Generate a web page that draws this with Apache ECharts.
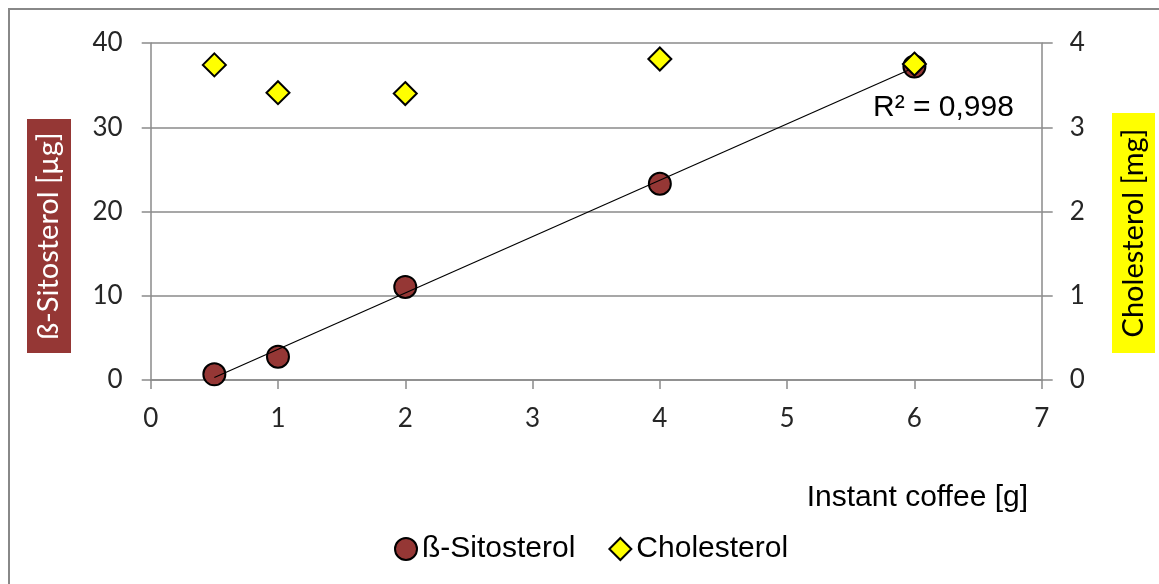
<!DOCTYPE html>
<html>
<head>
<meta charset="utf-8">
<script src="https://cdn.jsdelivr.net/npm/echarts@6/dist/echarts.min.js"></script>
<style>html,body{margin:0;padding:0;background:#fff}#c{width:1159px;height:584px}</style>
</head>
<body>
<div id="c"></div>
<script>
// ---- data ----
var coffeeGrams = [0.5, 1, 2, 4, 6];
var sitosterolUg = [0.67, 2.77, 11.05, 23.3, 37.2];
var cholesterolMg = [3.74, 3.41, 3.40, 3.81, 3.75];
var trendX = [0.5, 6];
var trendY = [0.3, 37.1];
var xTicks = [0, 1, 2, 3, 4, 5, 6, 7];
var leftTicks = [0, 10, 20, 30, 40];
var rightTicks = [0, 1, 2, 3, 4];
var seriesNames = ['ß-Sitosterol', 'Cholesterol'];
var rSquaredText = 'R² = 0,998';
var xTitle = 'Instant coffee [g]';
var leftTitle = 'ß-Sitosterol [µg]';
var rightTitle = 'Cholesterol [mg]';

function pairs(xs, ys) { return xs.map(function (x, i) { return [x, ys[i]]; }); }

var chart = echarts.init(document.getElementById('c'), null, { renderer: 'canvas' });
var axisGray = '#8a8a8a';
var tickFont = { fontFamily: 'Lato', fontSize: 26, color: '#262626' };
var arial = 'Liberation Sans';

chart.setOption({
  animation: false,
  backgroundColor: '#fff',
  grid: { left: 150.7, right: 117.3, top: 43, bottom: 204 },
  xAxis: {
    type: 'value', min: xTicks[0], max: xTicks[xTicks.length - 1], interval: 1,
    axisLine: { show: true, lineStyle: { color: axisGray, width: 1.5 } },
    axisTick: { show: true, length: 9, lineStyle: { color: axisGray, width: 1.5 } },
    splitLine: { show: false },
    axisLabel: Object.assign({ margin: 26 }, tickFont)
  },
  yAxis: [
    {
      type: 'value', min: leftTicks[0], max: leftTicks[leftTicks.length - 1], interval: 10,
      axisLine: { show: true, lineStyle: { color: axisGray, width: 1.5 } },
      axisTick: { show: true, length: 9, lineStyle: { color: axisGray, width: 1.5 } },
      splitLine: { show: true, lineStyle: { color: axisGray, width: 1.5 } },
      axisLabel: Object.assign({ margin: 28 }, tickFont)
    },
    {
      type: 'value', min: rightTicks[0], max: rightTicks[rightTicks.length - 1], interval: 1,
      position: 'right',
      axisLine: { show: true, lineStyle: { color: axisGray, width: 1.5 } },
      axisTick: { show: true, length: 11, lineStyle: { color: axisGray, width: 1.5 } },
      splitLine: { show: false },
      axisLabel: Object.assign({ margin: 28 }, tickFont)
    }
  ],
  legend: {
    data: seriesNames,
    left: 389, top: 529,
    itemWidth: 22, itemHeight: 22, itemGap: 33,
    textStyle: { fontFamily: arial, fontSize: 30, color: '#000' }
  },
  series: [
    {
      name: seriesNames[0], type: 'scatter', yAxisIndex: 0, z: 2,
      symbol: 'circle', symbolSize: 22,
      itemStyle: { color: '#953735', borderColor: '#000', borderWidth: 2, opacity: 1 },
      data: pairs(coffeeGrams, sitosterolUg)
    },
    {
      name: 'trend', type: 'line', yAxisIndex: 0, z: 3,
      showSymbol: false, symbol: 'none', silent: true,
      lineStyle: { color: '#000', width: 1.2 },
      data: pairs(trendX, trendY)
    },
    {
      name: seriesNames[1], type: 'scatter', yAxisIndex: 1, z: 4,
      symbol: 'diamond', symbolSize: 23,
      itemStyle: { color: '#FFFF00', borderColor: '#000', borderWidth: 2, opacity: 1 },
      data: pairs(coffeeGrams, cholesterolMg)
    }
  ],
  graphic: [
    { type: 'rect', silent: true, z: -10, shape: { x: 9, y: 9, width: 1160, height: 600 },
      style: { fill: 'none', stroke: '#888', lineWidth: 2 } },
    { type: 'rect', silent: true, shape: { x: 27, y: 119, width: 44, height: 234 },
      style: { fill: '#953735' } },
    { type: 'text', silent: true, x: 49, y: 236, rotation: Math.PI / 2,
      style: { text: leftTitle, fill: '#fff', font: '29px Lato', textAlign: 'center', textVerticalAlign: 'middle' } },
    { type: 'rect', silent: true, shape: { x: 1112, y: 113, width: 43, height: 240 },
      style: { fill: '#FFFF00' } },
    { type: 'text', silent: true, x: 1133.5, y: 233, rotation: Math.PI / 2,
      style: { text: rightTitle, fill: '#000', font: '29px Lato', textAlign: 'center', textVerticalAlign: 'middle' } },
    { type: 'text', silent: true, x: 1028, y: 498,
      style: { text: xTitle, fill: '#000', font: '30px "Liberation Sans"', textAlign: 'right', textVerticalAlign: 'middle' } },
    { type: 'text', silent: true, x: 873, y: 108,
      style: { text: rSquaredText, fill: '#000', font: '30px "Liberation Sans"', textAlign: 'left', textVerticalAlign: 'middle' } }
  ]
});
</script>
</body>
</html>
